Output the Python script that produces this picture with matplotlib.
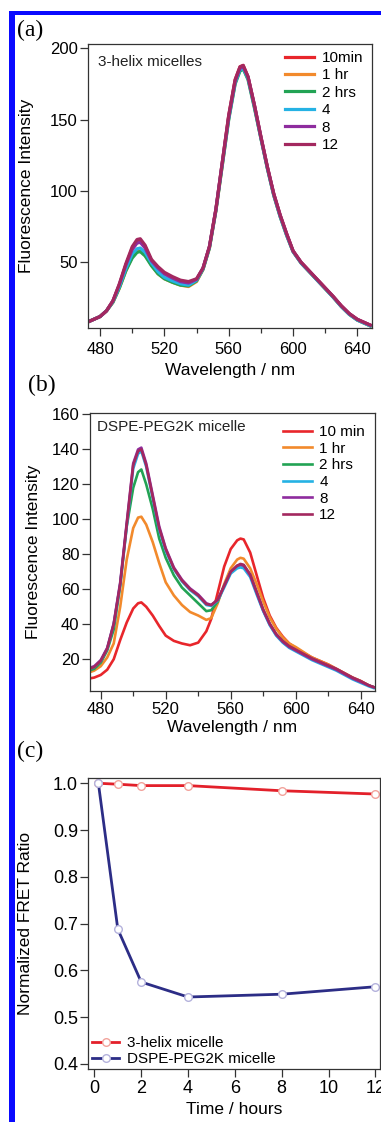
import matplotlib
matplotlib.use('Agg')
import matplotlib.pyplot as plt
from matplotlib.patches import Rectangle
from matplotlib.ticker import MultipleLocator

plt.rcParams['font.family'] = ['Liberation Sans', 'DejaVu Sans']

# ---- (a) 3-helix micelles ----
wl_a = [473, 476, 480, 484, 488, 492, 496, 500, 503, 505, 508, 512, 516, 520, 525,
        530, 535, 540, 544, 548, 552, 556, 560, 564, 567, 569, 572, 576, 580, 584,
        588, 592, 596, 600, 605, 610, 615, 620, 625, 630, 635, 640, 645, 648]
a_10min = [8.5, 10, 12, 16, 23, 34, 48, 60, 65, 65, 61, 51, 46, 42, 39,
           36.5, 35.5, 38, 45.5, 61, 87, 120, 153, 178, 187, 188, 180, 160, 138, 117,
           98, 83, 70, 58, 50, 44, 38, 32, 26, 19.5, 14, 10, 7.5, 6]
a_1hr = [8.5, 10, 12, 16, 22, 32, 44, 54, 57.5, 58, 55, 48, 42, 38.5, 36,
         34, 33, 36.5, 45, 60, 86, 118, 151, 176, 185, 186, 179, 159, 137, 116,
         97, 82, 69, 57.5, 49.5, 43.5, 37.5, 31.5, 25.5, 19, 13.5, 9.5, 7, 5.5]
a_2hrs = [8.5, 10, 12, 16, 22, 32, 44, 53, 57, 57.5, 54.5, 47.5, 42, 38.5, 36,
          34, 33.5, 37, 45, 60, 86, 118, 150, 175, 184, 185.5, 178, 158, 137, 116,
          97, 82, 69, 57.5, 49.5, 43.5, 37.5, 31.5, 25.5, 19, 13.5, 9.5, 7, 5.5]
a_4 = [8.5, 10, 12, 16, 22.5, 33, 45.5, 56, 59.5, 60, 57, 49.5, 43.5, 39.5, 37,
       35, 34, 37.5, 45.5, 60.5, 86.5, 119, 151, 176, 185, 186, 179, 159, 137, 116,
       97, 82, 69, 57.5, 49.5, 43.5, 37.5, 31.5, 25.5, 19, 13.5, 9.5, 7, 5.5]
a_8 = [8.5, 10, 12, 16, 23, 34.5, 48, 59, 63.5, 64, 60, 51, 46, 42, 39,
       36.5, 35.5, 38, 46, 61, 87, 120, 152, 177, 186, 187, 180, 160, 138, 117,
       98, 83, 70, 58, 50, 44, 38, 32, 26, 19.5, 14, 10, 7.5, 6]
a_12 = [8.5, 10, 12, 16, 23, 35, 49, 61, 66, 66.5, 62, 52, 47, 43, 40,
        37.5, 36.5, 38.5, 46, 61, 87, 120, 153, 178, 187, 188, 180, 160, 138, 117,
        98, 83, 70, 58, 50, 44, 38, 32, 26, 19.5, 14, 10, 7.5, 6]
labels_a = ['10min', '1 hr', '2 hrs', '4', '8', '12']

# ---- (b) DSPE-PEG2K micelle ----
wl_b = [473, 476, 480, 484, 488, 492, 496, 500, 503, 505, 508, 512, 516, 520, 525,
        530, 535, 540, 545, 548, 552, 556, 560, 564, 566, 568, 572, 576, 580, 584,
        588, 592, 596, 600, 605, 610, 615, 620, 625, 630, 635, 640, 645, 648]
b_10min = [9, 9.5, 11, 14, 20, 31, 41, 49, 52, 52.5, 50, 45, 39, 33.5, 30.5,
           29, 28, 29.5, 36, 43, 58, 73, 83, 88, 89, 88.5, 81, 68, 55, 45,
           38, 33, 29, 26.5, 23.5, 21, 19, 17, 14.5, 12, 9.5, 7.5, 5, 4]
b_1hr = [12.5, 13.5, 16, 21, 29, 50, 77, 95, 101, 101.5, 97, 87, 75, 64, 56.5,
         51, 47, 45, 42.5, 43.5, 52, 63, 72, 77, 78, 77.5, 72, 63, 53, 44,
         37.5, 32.5, 29, 27, 24, 21, 19, 17, 14.5, 12, 9.5, 7.5, 5, 4]
b_2hrs = [13.5, 14.5, 18, 25, 37, 62, 96, 118, 127, 128.5, 120, 106, 89, 78, 68,
          61, 56.5, 52, 47.5, 48, 53, 62, 69.5, 73, 74, 73.5, 68, 58, 48, 40,
          34, 30, 27, 25, 22.5, 20, 18, 16, 14, 11.5, 9, 7, 5, 4]
b_4 = [14.5, 15.5, 19, 26, 40, 63, 96, 129, 137.5, 139, 130, 112, 94, 82, 71.5,
       64.5, 59.5, 56, 51, 50.5, 53.5, 61, 69, 72, 72.5, 72, 67, 57, 47.5, 39.5,
       33.5, 29.5, 26.5, 24.5, 22, 19.5, 17.5, 15.5, 13.5, 11, 8.5, 6.5, 4.5, 3.5]
b_8 = [15, 16, 19.5, 26.5, 40.5, 64, 98, 132, 140, 141, 132, 114, 96, 83.5, 72.5,
       65.5, 60.5, 57, 52, 51, 54, 62, 70, 73.5, 74, 73.5, 68, 58, 48, 40,
       34, 30, 27, 25, 22.5, 20, 18, 16, 14, 11.5, 9, 7, 5, 4]
b_12 = [14.5, 15.5, 19, 26, 40, 63, 97, 131, 139, 140, 131, 113, 95, 83, 72,
        65, 60, 56.5, 51.5, 51, 54, 62, 70, 73.5, 74.5, 74, 68.5, 58.5, 48.5, 40.5,
        34.5, 30.5, 27.5, 25.5, 23, 20.5, 18.5, 16.5, 14.5, 12, 9.5, 7.5, 5, 4]
labels_b = ['10 min', '1 hr', '2 hrs', '4', '8', '12']

colors = ['#e8262b', '#f28a2c', '#22a354', '#25b2e4', '#8e2c9e', '#a3285f']

# ---- (c) normalized FRET ratio ----
t_hours = [0.17, 1, 2, 4, 8, 12]
fret_3helix = [1.0, 0.998, 0.995, 0.995, 0.984, 0.977]
fret_dspe = [1.0, 0.688, 0.575, 0.543, 0.549, 0.565]

fig = plt.figure(figsize=(3.81, 11.22), dpi=100)

spine_col = '#333333'


def style(ax, xpad, ypad):
    for s in ax.spines.values():
        s.set_color(spine_col)
        s.set_linewidth(0.9)
    ax.tick_params(which='both', direction='out', color=spine_col, width=0.9,
                   labelsize=12, top=False, right=False)
    ax.tick_params(which='major', length=5.5)
    ax.tick_params(which='minor', length=3.5)
    ax.tick_params(axis='x', pad=xpad)
    ax.tick_params(axis='y', pad=ypad)


# panel (a)
ax1 = fig.add_axes([0.231, 0.7077, 0.745, 0.2531])
for y, lab, c in zip([a_10min, a_1hr, a_2hrs, a_4, a_8, a_12], labels_a, colors):
    ax1.plot(wl_a, y, color=c, lw=2.3, label=lab)
ax1.set_xlim(472.5, 649)
ax1.set_ylim(4, 203)
ax1.xaxis.set_major_locator(MultipleLocator(40))
ax1.xaxis.set_minor_locator(MultipleLocator(20))
ax1.yaxis.set_major_locator(MultipleLocator(50))
style(ax1, 4.5, 2)
ax1.set_ylabel('Fluorescence Intensity', fontsize=12.5)
ax1.set_xlabel('Wavelength / nm', fontsize=12.5)
ax1.yaxis.set_label_coords(-0.19, 0.5)
ax1.xaxis.set_label_coords(0.5, -0.125)
ax1.text(0.034, 0.938, '3-helix micelles', transform=ax1.transAxes,
         fontsize=11, va='center', ha='left', color='#222222')
ax1.legend(loc='upper right', bbox_to_anchor=(0.97, 0.975), frameon=False,
           fontsize=11, borderpad=0, borderaxespad=0, handlelength=1.9,
           handletextpad=0.5, labelspacing=0.22)

# panel (b)
ax2 = fig.add_axes([0.2362, 0.3844, 0.748, 0.2478])
for y, lab, c in zip([b_10min, b_1hr, b_2hrs, b_4, b_8, b_12], labels_b, colors):
    ax2.plot(wl_b, y, color=c, lw=1.9, label=lab)
ax2.set_xlim(473.4, 648.8)
ax2.set_ylim(2, 161)
ax2.xaxis.set_major_locator(MultipleLocator(40))
ax2.xaxis.set_minor_locator(MultipleLocator(20))
ax2.yaxis.set_major_locator(MultipleLocator(20))
style(ax2, 2.5, 2)
ax2.set_ylabel('Fluorescence Intensity', fontsize=12.5)
ax2.set_xlabel('Wavelength / nm', fontsize=12.5)
ax2.yaxis.set_label_coords(-0.173, 0.5)
ax2.xaxis.set_label_coords(0.5, -0.105)
ax2.text(0.0235, 0.95, 'DSPE-PEG2K micelle', transform=ax2.transAxes,
         fontsize=11, va='center', ha='left', color='#222222')
ax2.legend(loc='upper right', bbox_to_anchor=(0.965, 0.955), frameon=False,
           fontsize=11, borderpad=0, borderaxespad=0, handlelength=1.9,
           handletextpad=0.5, labelspacing=0.17)

# panel (c)
ax3 = fig.add_axes([0.2318, 0.0472, 0.7656, 0.2597])
ax3.plot(t_hours, fret_3helix, color='#e3202a', lw=2.0, marker='o', ms=5.5,
         mfc='white', mec='#f2a39c', mew=1.0, label='3-helix micelle', clip_on=False)
ax3.plot(t_hours, fret_dspe, color='#2c2d86', lw=2.0, marker='o', ms=5.5,
         mfc='white', mec='#b4b2dc', mew=1.0, label='DSPE-PEG2K micelle', clip_on=False)
ax3.set_xlim(-0.26, 12.2)
ax3.set_ylim(0.389, 1.012)
ax3.xaxis.set_major_locator(MultipleLocator(2))
ax3.yaxis.set_major_locator(MultipleLocator(0.1))
style(ax3, 2.5, 2)
ax3.tick_params(labelsize=13)
ax3.set_ylabel('Normalized FRET Ratio', fontsize=12.5)
ax3.set_xlabel('Time / hours', fontsize=12.5)
ax3.yaxis.set_label_coords(-0.1885, 0.5)
ax3.xaxis.set_label_coords(0.5, -0.112)
ax3.legend(loc='lower left', bbox_to_anchor=(0.012, 0.01), frameon=False,
           fontsize=11, borderpad=0, borderaxespad=0, handlelength=1.8,
           handletextpad=0.5, labelspacing=0.12)

# panel letters
serif = ['Liberation Serif', 'DejaVu Serif']
fig.text(0.044, 0.9733, '(a)', fontsize=17, family=serif, va='center', ha='left')
fig.text(0.074, 0.6569, '(b)', fontsize=17, family=serif, va='center', ha='left')
fig.text(0.044, 0.3307, '(c)', fontsize=17, family=serif, va='center', ha='left')

# blue frame
blue = '#0a0aff'
fig.add_artist(Rectangle((9 / 381, 1 - 15 / 1122), 1, 4 / 1122,
                         transform=fig.transFigure, color=blue, lw=0))
fig.add_artist(Rectangle((9 / 381, 0), 6 / 381, 1 - 11 / 1122,
                         transform=fig.transFigure, color=blue, lw=0))

fig.savefig('out.png', dpi=100)
